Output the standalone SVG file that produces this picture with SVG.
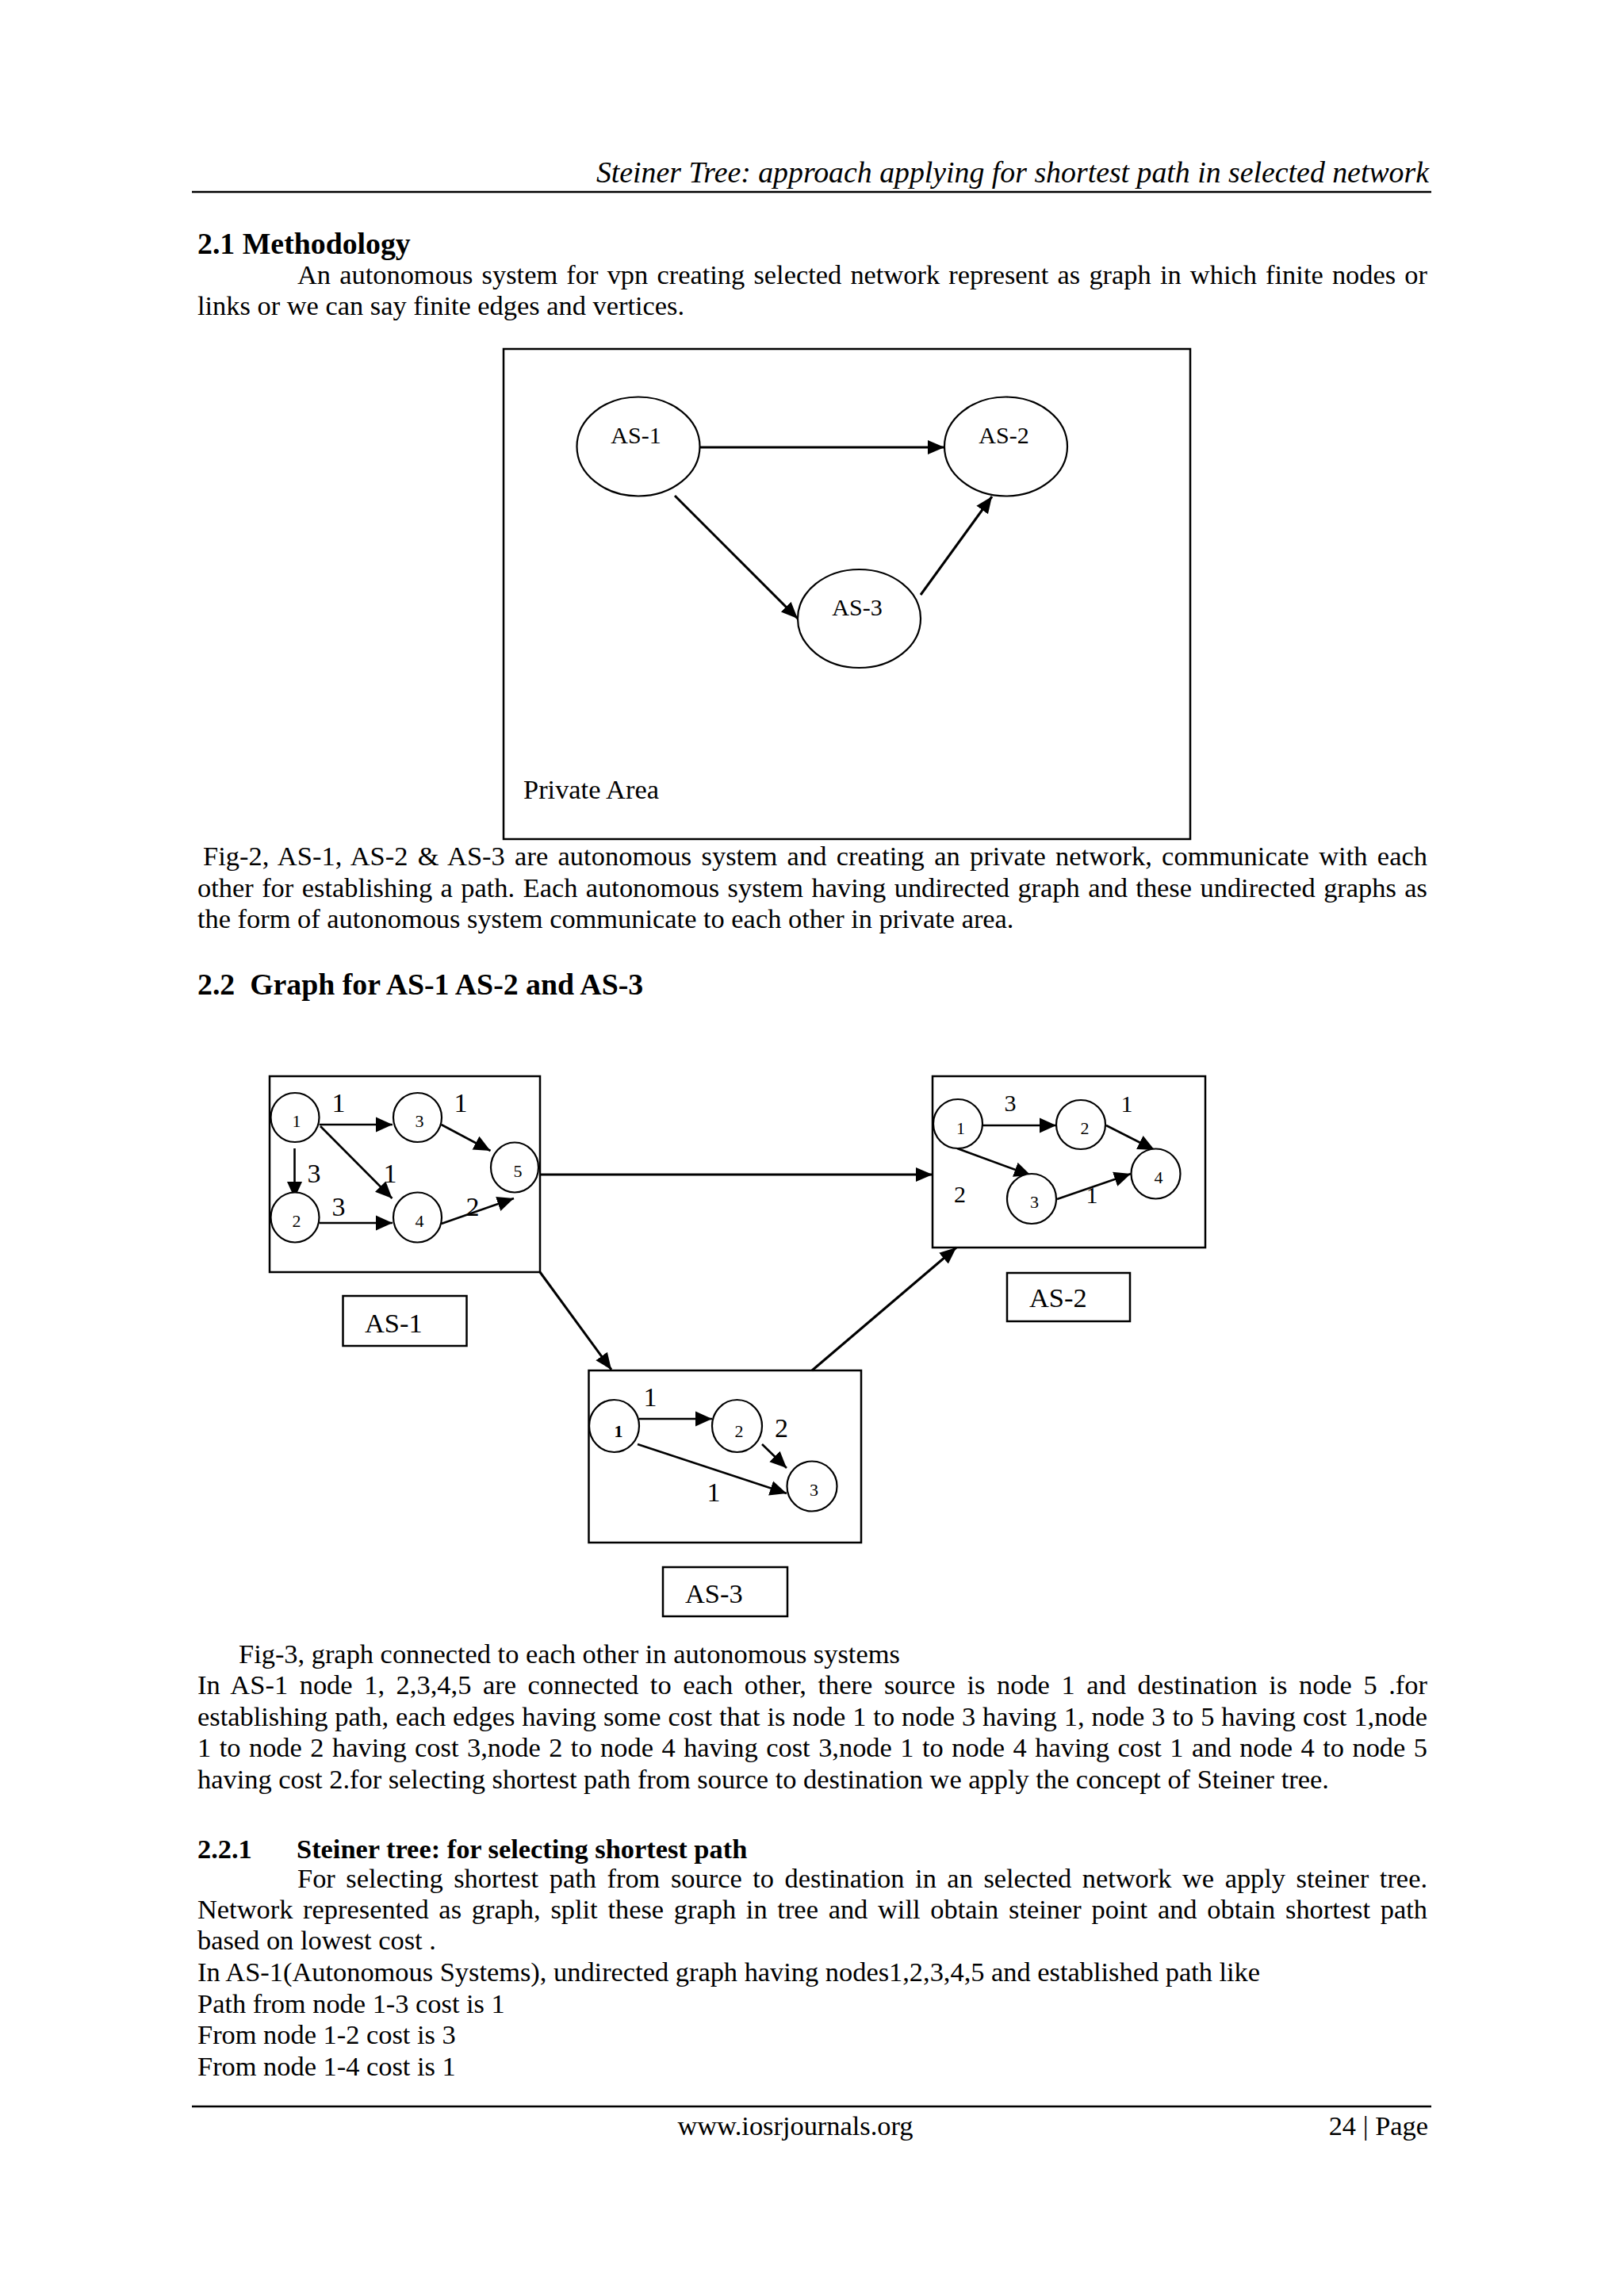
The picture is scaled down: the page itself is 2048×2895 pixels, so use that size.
<svg xmlns="http://www.w3.org/2000/svg" width="2048" height="2895" viewBox="0 0 2048 2895">
<style>
text{font-family:"Liberation Serif","Times New Roman",serif;fill:#000}
.body{font-size:34.4px}
.hdr{font-size:37.8px;font-style:italic}
.h11{font-size:37.8px;font-weight:bold}
.h10{font-size:34.4px;font-weight:bold}
.aslbl{font-size:30px}
.nl{font-size:22px}
.el{font-size:34px}
.el2{font-size:30px}
.rule{stroke:#000;stroke-width:2.5}
.box{fill:none;stroke:#000;stroke-width:2.5}
.nd{fill:#fff;stroke:#000;stroke-width:2.2}
.ed{stroke:#000;stroke-width:3;fill:none;marker-end:url(#ah)}
.ed2{stroke:#000;stroke-width:2.6;fill:none;marker-end:url(#ah2)}
</style>
<defs>
<marker id="ah" markerUnits="userSpaceOnUse" markerWidth="22" markerHeight="20" refX="21" refY="9" orient="auto" viewBox="0 0 22 18">
<path d="M0,0 L21,9 L0,18 z" fill="#000"/>
</marker>
<marker id="ah2" markerUnits="userSpaceOnUse" markerWidth="22" markerHeight="20" refX="21" refY="9.5" orient="auto" viewBox="0 0 22 19">
<path d="M0,0 L21,9.5 L0,19 z" fill="#000"/>
</marker>
</defs>
<rect width="2048" height="2895" fill="#fff"/>

<!-- header -->
<text class="hdr" x="1802" y="230" text-anchor="end">Steiner Tree: approach applying for shortest path in selected network</text>
<line class="rule" x1="242" y1="242" x2="1805" y2="242"/>

<text class="h11" x="249" y="320">2.1 Methodology</text>
<text class="body" x="375" y="358" word-spacing="2.58" textLength="1425" lengthAdjust="spacing">An autonomous system for vpn creating selected network represent as graph in which finite nodes or</text>
<text class="body" x="249" y="397">links or we can say finite edges and vertices.</text>

<!-- Figure 2 -->
<g id="fig2">
<rect id="private-area" class="box" x="635" y="440" width="866" height="618" stroke-width="2"/>
<text class="body" x="660" y="1007">Private Area</text>
<g id="fig2-connectors">
<line class="ed" x1="882" y1="564" x2="1191" y2="564"/>
<line class="ed" x1="851" y1="625" x2="1006" y2="780"/>
<line class="ed" x1="1161" y1="750" x2="1251" y2="626"/>
</g>
<g id="f2-as1"><ellipse class="nd" cx="805" cy="563" rx="77.5" ry="62.5"/><text class="aslbl" x="802" y="559" text-anchor="middle">AS-1</text></g>
<g id="f2-as2"><ellipse class="nd" cx="1268.5" cy="563" rx="77.5" ry="62.5"/><text class="aslbl" x="1266" y="559" text-anchor="middle">AS-2</text></g>
<g id="f2-as3"><ellipse class="nd" cx="1083.5" cy="780" rx="77.5" ry="62"/><text class="aslbl" x="1081" y="776" text-anchor="middle">AS-3</text></g>
</g>

<text class="body" x="256" y="1091" word-spacing="3.64" textLength="1544" lengthAdjust="spacing">Fig-2, AS-1, AS-2 &amp; AS-3 are autonomous system and creating an private network, communicate with each</text>
<text class="body" x="249" y="1131" word-spacing="1.87" textLength="1551" lengthAdjust="spacing">other for establishing a path. Each autonomous system having undirected graph and these undirected graphs as</text>
<text class="body" x="249" y="1170">the form of autonomous system communicate to each other in private area.</text>

<text class="h11" x="249" y="1254" xml:space="preserve">2.2  Graph for AS-1 AS-2 and AS-3</text>

<!-- Figure 3 -->
<g id="fig3">
<g id="as1-box"><rect class="box" x="340" y="1357" width="341" height="247"/></g>
<g id="as2-box"><rect class="box" x="1176" y="1357" width="344" height="216"/></g>
<g id="as3-box"><rect class="box" x="742.5" y="1728" width="343.5" height="217"/></g>
<g id="as1-label"><rect class="box" x="432.5" y="1634" width="156" height="63"/><text class="body" x="460" y="1680">AS-1</text></g>
<g id="as2-label"><rect class="box" x="1270" y="1605" width="155" height="61"/><text class="body" x="1298" y="1648">AS-2</text></g>
<g id="as3-label"><rect class="box" x="836" y="1976" width="157" height="62"/><text class="body" x="864" y="2021">AS-3</text></g>

<g id="connectors">
<!-- between AS boxes -->
<line class="ed" x1="681" y1="1481" x2="1176" y2="1481"/>
<line class="ed" x1="681" y1="1604" x2="771" y2="1727"/>
<line class="ed" x1="1024" y1="1728" x2="1206" y2="1573"/>
<!-- AS-1 -->
<line class="ed2" x1="402.6" y1="1418" x2="495" y2="1418"/>
<line class="ed2" x1="371.5" y1="1448" x2="371.5" y2="1511"/>
<line class="ed2" x1="404" y1="1420" x2="494.5" y2="1511"/>
<line class="ed2" x1="556.5" y1="1418" x2="618.5" y2="1451"/>
<line class="ed2" x1="402.6" y1="1542" x2="495" y2="1542"/>
<line class="ed2" x1="556.5" y1="1543" x2="648" y2="1511"/>
<!-- AS-2 -->
<line class="ed2" x1="1239" y1="1419" x2="1332" y2="1419"/>
<line class="ed2" x1="1395" y1="1419" x2="1456" y2="1450"/>
<line class="ed2" x1="1207" y1="1448" x2="1300" y2="1482"/>
<line class="ed2" x1="1333" y1="1512" x2="1426" y2="1480"/>
<!-- AS-3 -->
<line class="ed2" x1="806" y1="1789" x2="898" y2="1789"/>
<line class="ed2" x1="961" y1="1821" x2="992" y2="1851"/>
<line class="ed2" x1="804" y1="1821" x2="992" y2="1883"/>
</g>

<!-- AS-1 nodes -->
<g id="as1-n1"><ellipse class="nd" cx="372" cy="1409" rx="30.5" ry="31"/><text class="nl" x="374" y="1421" text-anchor="middle">1</text></g>
<g id="as1-n3"><ellipse class="nd" cx="526.5" cy="1409" rx="30.5" ry="31"/><text class="nl" x="529" y="1421" text-anchor="middle">3</text></g>
<g id="as1-n5"><ellipse class="nd" cx="649" cy="1472" rx="30" ry="31.5"/><text class="nl" x="653" y="1484" text-anchor="middle">5</text></g>
<g id="as1-n2"><ellipse class="nd" cx="372" cy="1535" rx="30.5" ry="31.5"/><text class="nl" x="374" y="1547" text-anchor="middle">2</text></g>
<g id="as1-n4"><ellipse class="nd" cx="526.5" cy="1535" rx="30.5" ry="31.5"/><text class="nl" x="529" y="1547" text-anchor="middle">4</text></g>
<g id="as1-edge-labels">
<text class="el" x="427" y="1402" text-anchor="middle">1</text>
<text class="el" x="581" y="1402" text-anchor="middle">1</text>
<text class="el" x="396" y="1491" text-anchor="middle">3</text>
<text class="el" x="492" y="1491" text-anchor="middle">1</text>
<text class="el" x="427" y="1533" text-anchor="middle">3</text>
<text class="el" x="596" y="1533" text-anchor="middle">2</text>
</g>

<!-- AS-2 nodes -->
<g id="as2-n1"><ellipse class="nd" cx="1208" cy="1417" rx="31" ry="31"/><text class="nl" x="1211.5" y="1430" text-anchor="middle">1</text></g>
<g id="as2-n2"><ellipse class="nd" cx="1363" cy="1418" rx="31" ry="31"/><text class="nl" x="1368" y="1430" text-anchor="middle">2</text></g>
<g id="as2-n4"><ellipse class="nd" cx="1457.5" cy="1480" rx="31" ry="31.5"/><text class="nl" x="1461" y="1492" text-anchor="middle">4</text></g>
<g id="as2-n3"><ellipse class="nd" cx="1301" cy="1511.5" rx="31" ry="31.5"/><text class="nl" x="1304.5" y="1523" text-anchor="middle">3</text></g>
<g id="as2-edge-labels">
<text class="el2" x="1274" y="1401" text-anchor="middle">3</text>
<text class="el2" x="1421" y="1402" text-anchor="middle">1</text>
<text class="el2" x="1210.5" y="1516" text-anchor="middle">2</text>
<text class="el2" x="1377" y="1517" text-anchor="middle">1</text>
</g>

<!-- AS-3 nodes -->
<g id="as3-n1"><ellipse class="nd" cx="774.5" cy="1798" rx="31.5" ry="33"/><text class="nl" x="780" y="1812" text-anchor="middle" font-weight="bold">1</text></g>
<g id="as3-n2"><ellipse class="nd" cx="929.5" cy="1798" rx="31.5" ry="33"/><text class="nl" x="932" y="1812" text-anchor="middle">2</text></g>
<g id="as3-n3"><ellipse class="nd" cx="1024" cy="1874" rx="31.5" ry="31.5"/><text class="nl" x="1026.5" y="1886" text-anchor="middle">3</text></g>
<g id="as3-edge-labels">
<text class="el" x="820" y="1773" text-anchor="middle">1</text>
<text class="el" x="985.5" y="1812" text-anchor="middle">2</text>
<text class="el" x="900" y="1893" text-anchor="middle">1</text>
</g>
</g>

<text class="body" x="301" y="2097">Fig-3, graph connected to each other in autonomous systems</text>
<text class="body" x="249" y="2136" word-spacing="5.9" textLength="1551" lengthAdjust="spacing">In AS-1 node 1, 2,3,4,5 are connected to each other, there source is node 1 and destination is node 5 .for</text>
<text class="body" x="249" y="2176" word-spacing="0.36" textLength="1551" lengthAdjust="spacing">establishing path, each edges having some cost that is node 1 to node 3 having 1, node 3 to 5 having cost 1,node</text>
<text class="body" x="249" y="2215" word-spacing="1.88" textLength="1551" lengthAdjust="spacing">1 to node 2 having cost 3,node 2 to node 4 having cost 3,node 1 to node 4 having cost 1 and node 4 to node 5</text>
<text class="body" x="249" y="2255">having cost 2.for selecting shortest path from source to destination we apply the concept of Steiner tree.</text>

<text class="h10" x="249" y="2343">2.2.1</text>
<text class="h10" x="374" y="2343">Steiner tree: for selecting shortest path</text>
<text class="body" x="375" y="2380" word-spacing="4.94" textLength="1425" lengthAdjust="spacing">For selecting shortest path from source to destination in an selected network we apply steiner tree.</text>
<text class="body" x="249" y="2419" word-spacing="4.12" textLength="1551" lengthAdjust="spacing">Network represented as graph, split these graph in tree and will obtain steiner point and obtain shortest path</text>
<text class="body" x="249" y="2458">based on lowest cost .</text>
<text class="body" x="249" y="2498">In AS-1(Autonomous Systems), undirected graph having nodes1,2,3,4,5 and established path like</text>
<text class="body" x="249" y="2538">Path from node 1-3 cost is 1</text>
<text class="body" x="249" y="2577">From node 1-2 cost is 3</text>
<text class="body" x="249" y="2617">From node 1-4 cost is 1</text>

<!-- footer -->
<line class="rule" x1="242" y1="2656" x2="1805" y2="2656"/>
<text class="body" x="1003" y="2692" text-anchor="middle">www.iosrjournals.org</text>
<text class="body" x="1801" y="2692" text-anchor="end">24 | Page</text>
</svg>
